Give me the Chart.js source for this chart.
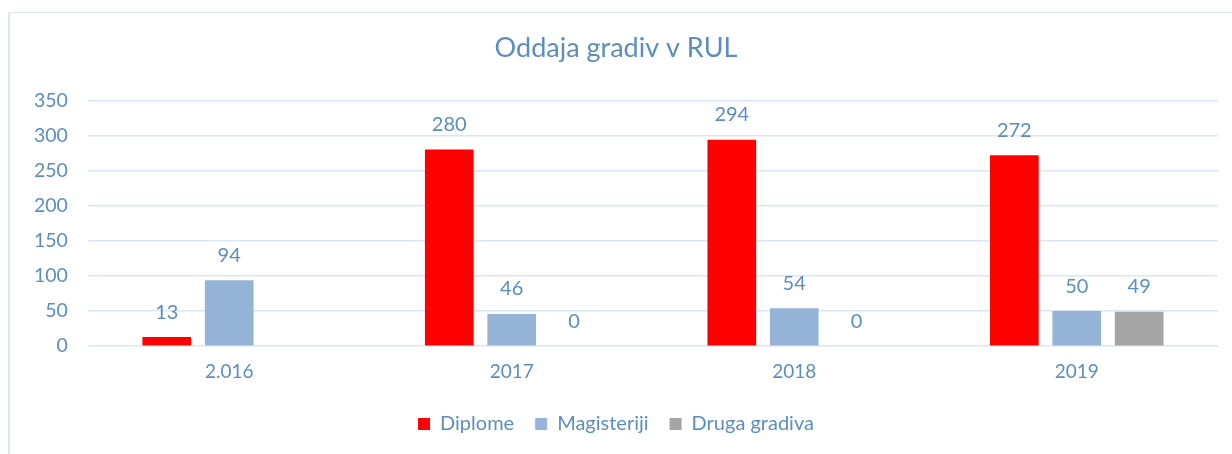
<!DOCTYPE html>
<html>
<head>
<meta charset="utf-8">
<script src="https://cdn.jsdelivr.net/npm/chart.js@4"></script>
<style>
  html, body { margin: 0; padding: 0; background: #fff; }
  #wrap { position: relative; width: 1232px; height: 454px; }
  #frame { position: absolute; left: 8px; top: 12px; right: 0; bottom: 0;
           border-left: 2px solid #DCE6F2; border-top: 1px solid #DCE6F2; }
  canvas { position: absolute; left: 0; top: 0; }
</style>
</head>
<body>
<div id="wrap">
  <div id="frame"></div>
  <canvas id="myChart" width="1232" height="454"></canvas>
</div>
<script>
var years = ['2.016', '2017', '2018', '2019'];
var diplome = [13, 280, 294, 272];
var magisteriji = [94, 46, 54, 50];
var drugaGradiva = [null, 0, 0, 49];
var yTicks = [0, 50, 100, 150, 200, 250, 300, 350];

var textColor = '#5B8EBF';
var fontName = 'Lato, "Open Sans", sans-serif';

// draws the number above each bar
var valueLabels = {
    id: 'valueLabels',
    afterDatasetsDraw: function(chart) {
        var c = chart.ctx;
        c.save();
        c.font = '20px ' + fontName;
        c.fillStyle = textColor;
        c.textAlign = 'center';
        c.textBaseline = 'middle';
        chart.data.datasets.forEach(function(ds, i) {
            var meta = chart.getDatasetMeta(i);
            meta.data.forEach(function(bar, j) {
                var v = ds.data[j];
                if (v === null || v === undefined) return;
                c.fillText(String(v), bar.x, bar.y - 25);
            });
        });
        c.restore();
    }
};

const ctx = document.getElementById('myChart');
new Chart(ctx, {
    type: 'bar',
    data: {
        labels: years,
        datasets: [{
            label: 'Diplome',
            data: diplome,
            backgroundColor: '#FF0000',
        },
        {
            label: 'Magisteriji',
            data: magisteriji,
            backgroundColor: '#95B3D7',
        },
        {
            label: 'Druga gradiva',
            data: drugaGradiva,
            backgroundColor: '#A5A5A5',
        }]
    },
    plugins: [valueLabels],
    options: {
        responsive: false,
        animation: false,
        layout: { padding: { left: 14, right: 14, top: 0, bottom: 10 } },
        datasets: {
            bar: { categoryPercentage: 0.663, barPercentage: 0.78 }
        },
        plugins: {
            title: {
                display: true,
                text: 'Oddaja gradiv v RUL',
                color: textColor,
                font: { family: fontName, size: 27, weight: 'normal' },
                padding: { top: 32, bottom: 36 }
            },
            legend: {
                position: 'bottom',
                labels: {
                    color: textColor,
                    boxWidth: 12,
                    boxHeight: 12,
                    padding: 21,
                    font: { family: fontName, size: 20 }
                }
            },
            tooltip: { enabled: false }
        },
        scales: {
            x: {
                grid: { display: false },
                border: { display: false },
                afterFit: function(axis) { axis.height += 4; },
                ticks: {
                    color: textColor,
                    padding: 6,
                    font: { family: fontName, size: 19 }
                }
            },
            y: {
                min: 0,
                max: 350,
                afterBuildTicks: function(axis) {
                    axis.ticks = yTicks.map(function(v) { return { value: v }; });
                },
                grid: { color: '#DCE6F2', lineWidth: 1.5, drawTicks: false },
                border: { display: false },
                ticks: {
                    color: textColor,
                    padding: 20,
                    font: { family: fontName, size: 19.5 }
                }
            }
        }
    }
});
</script>
</body>
</html>
